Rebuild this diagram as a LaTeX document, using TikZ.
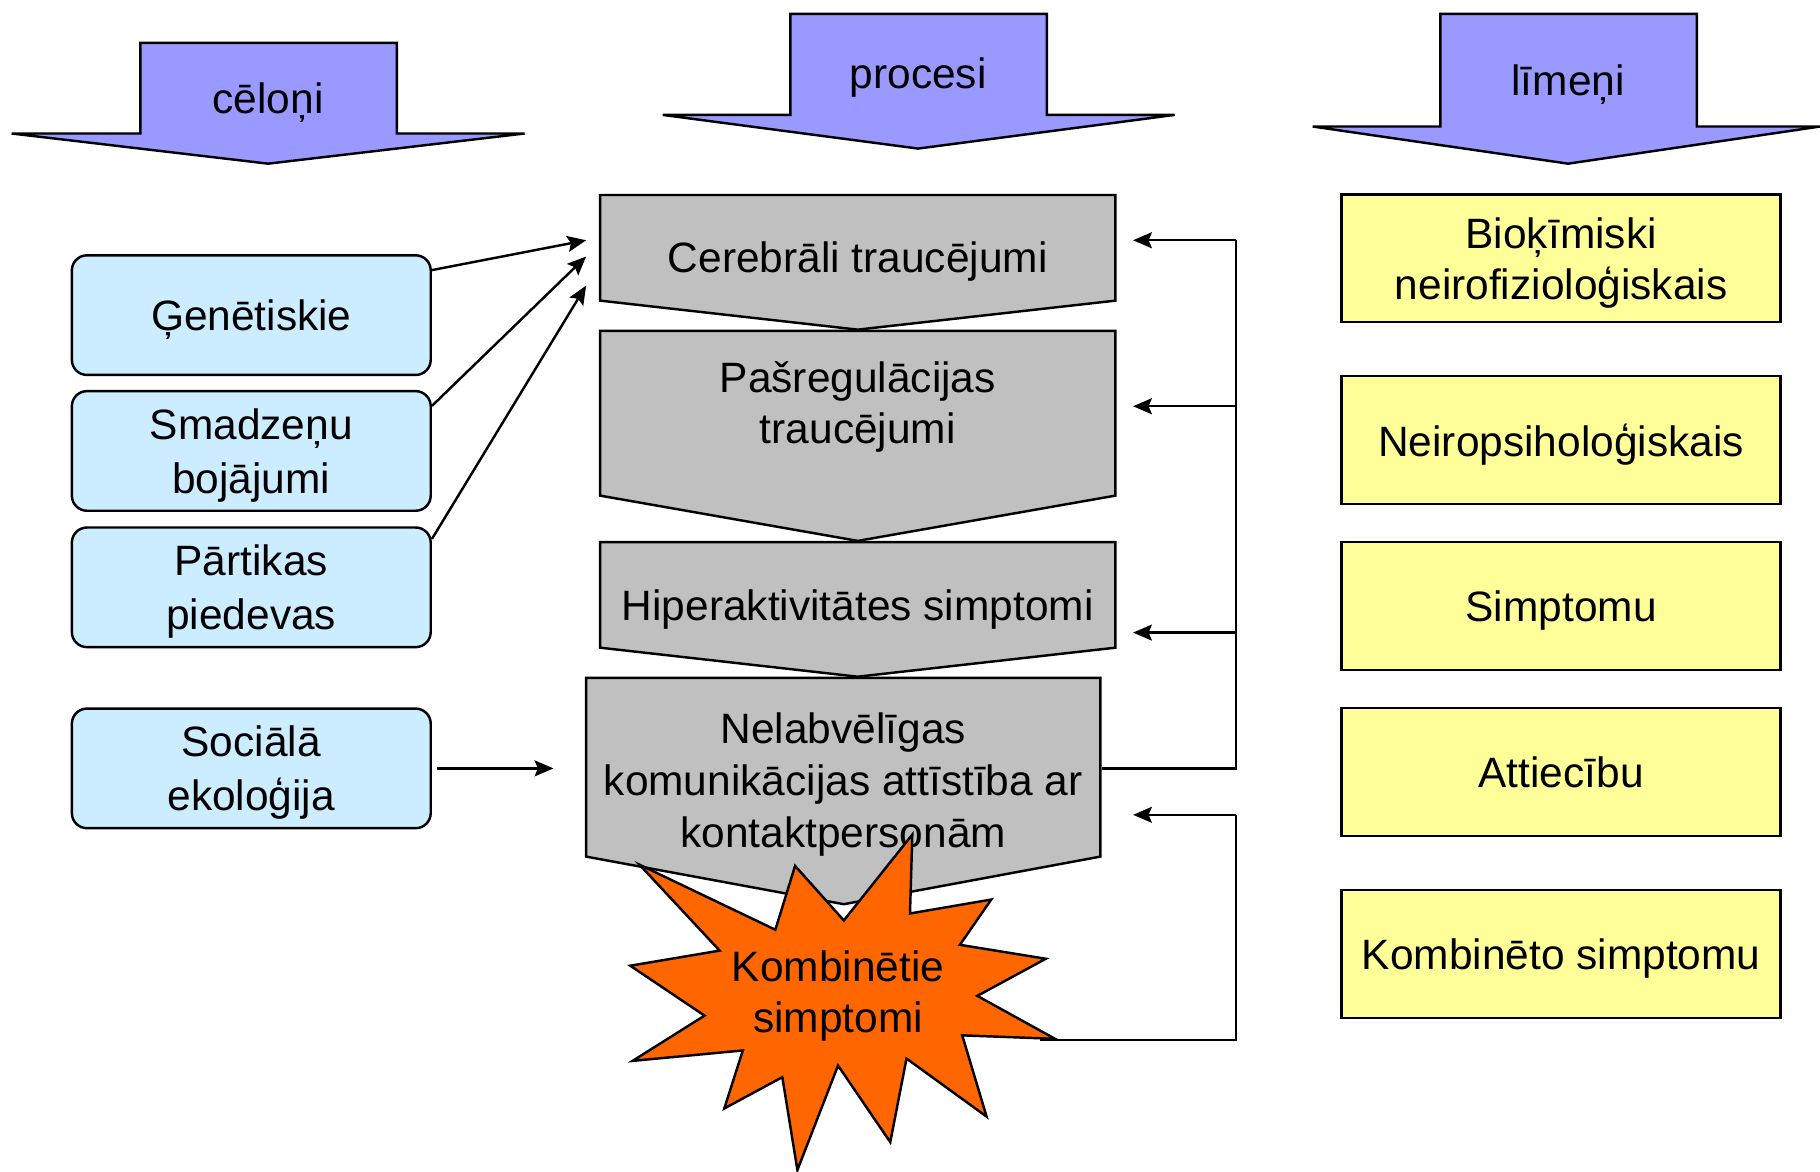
\documentclass[tikz,border=0pt]{standalone}
\usepackage{fontspec}
\setmainfont{Liberation Sans}
\usetikzlibrary{arrows.meta}
\definecolor{headfill}{HTML}{9999FF}
\definecolor{causefill}{HTML}{CCECFF}
\definecolor{procfill}{HTML}{C0C0C0}
\definecolor{levelfill}{HTML}{FFFF99}
\definecolor{burstfill}{HTML}{FF6600}
\begin{document}
\begin{tikzpicture}[>={Stealth[length=4.6pt,width=3.9pt,inset=.8pt]}, x=.01cm, y=-.01cm,
    font=\fontsize{10.4}{12.5}\selectfont, line width=.6pt,
    hdrarrow/.style={draw, fill=headfill},
    causebox/.style={draw, fill=causefill, rounded corners=3.7pt, minimum width=3.09cm, minimum height=1.03cm, inner sep=0pt, align=center, text depth=0pt, font=\fontsize{10.4}{13.3}\selectfont},
    procshape/.style={draw, fill=procfill},
    proctxt/.style={minimum width=4.44cm, inner sep=0pt, align=center},
    levelbox/.style={draw, fill=levelfill, minimum width=3.78cm, minimum height=1.1cm, inner sep=0pt, align=center, text depth=0pt}]
    \useasboundingbox (0,0) rectangle (1568,1009);
    % virsraksti
    \draw[hdrarrow] (121,37) -- (342,37) -- (342,115) -- (452,115) -- (231,141) -- (10,115) -- (121,115) -- cycle;
    \node (celoni) at (231,88) {cēloņi};
    \draw[hdrarrow] (681,12) -- (902,12) -- (902,99) -- (1012,99) -- (791,128) -- (571,99) -- (681,99) -- cycle;
    \node (procesi) at (791,67) {procesi};
    \draw[hdrarrow] (1241,12) -- (1462,12) -- (1462,109) -- (1568,109) -- (1351,141) -- (1131,109) -- (1241,109) -- cycle;
    \node (limeni) at (1351,73) {līmeņi};
    % cēloņi
    \node[causebox] (gen) at (216.5,271.5) {Ģenētiskie};
    \node[causebox] (smad) at (216.5,388.5) {Smadzeņu\\bojājumi};
    \node[causebox] (part) at (216.5,506) {Pārtikas\\piedevas};
    \node[causebox] (soc) at (216.5,662) {Sociālā\\ekoloģija};
    % procesi
    \draw[procshape] (517,168) -- (961,168) -- (961,259) -- (739,284) -- (517,259) -- cycle;
    \node[proctxt] (cer) at (739,225) {Cerebrāli traucējumi};
    \draw[procshape] (517,285) -- (961,285) -- (961,427) -- (739,466) -- (517,427) -- cycle;
    \node[proctxt] (pasr) at (739,351) {Pašregulācijas\\traucējumi};
    \draw[procshape] (517,467) -- (961,467) -- (961,558) -- (739,583) -- (517,558) -- cycle;
    \node[proctxt] (hiper) at (739,525) {Hiperaktivitātes simptomi};
    \draw[procshape] (505,584) -- (948,584) -- (948,738) -- (727,779) -- (505,738) -- cycle;
    \node[proctxt, minimum width=4.43cm, font=\fontsize{10.4}{12.7}\selectfont] (nel) at (726.5,676) {Nelabvēlīgas\\komunikācijas attīstība ar\\kontaktpersonām};
    % sprādziens
    \draw[fill=burstfill] (786,719) -- (784,787) -- (854,775) -- (827,814) -- (901,826) -- (842,858) -- (909,895) -- (829,892) -- (850,962) -- (781,912) -- (767,984) -- (722,918) -- (687,1008) -- (674,928) -- (624,955) -- (640,905) -- (545,914) -- (607,875) -- (543,832) -- (620,819) -- (551,745) -- (668,801) -- (685,746) -- (727,793) -- cycle;
    \node[align=center] (komb) at (722,858) {Kombinētie\\simptomi};
    \coordinate (kt) at (896,896);
    % bultas no cēloņiem
    \coordinate (c1) at (505,207);
    \coordinate (c2) at (505,221);
    \coordinate (c3) at (505,246);
    \draw[->] (gen.14) -- (c1);
    \draw[->] (smad.14) -- (c2);
    \draw[->] (part.15) -- (c3);
    \draw[->, shorten <=.04cm, shorten >=.27cm] (soc.east) -- (soc.east -| nel.west);
    % atgriezeniskās saites
    \coordinate (r1) at (1065,207);
    \coordinate (r2) at (1065,350);
    \coordinate (r3) at (1065,545);
    \coordinate (r4) at (1065,662);
    \coordinate (r5) at (1065,702);
    \coordinate (r6) at (1065,896);
    \draw (nel.east |- r4) -- (r4) -- (r1);
    \foreach \r/\b in {r1/cer, r2/pasr, r3/hiper}{\draw[->, shorten >=.14cm] (\r) -- (\r -| \b.east);}
    \draw (kt) -- (r6) -- (r5);
    \draw[->, shorten >=.27cm] (r5) -- (r5 -| nel.east);
    % līmeņi
    \foreach \y/\n/\t in {222.5/bio/{Bioķīmiski\\neirofizioloģiskais}, 379/neiro/Neiropsiholoģiskais, 522/simpt/Simptomu, 665/attiec/Attiecību, 822/kombl/Kombinēto simptomu}
        \node[levelbox] (\n) at (1345,\y) {\t};
\end{tikzpicture}
\end{document}
